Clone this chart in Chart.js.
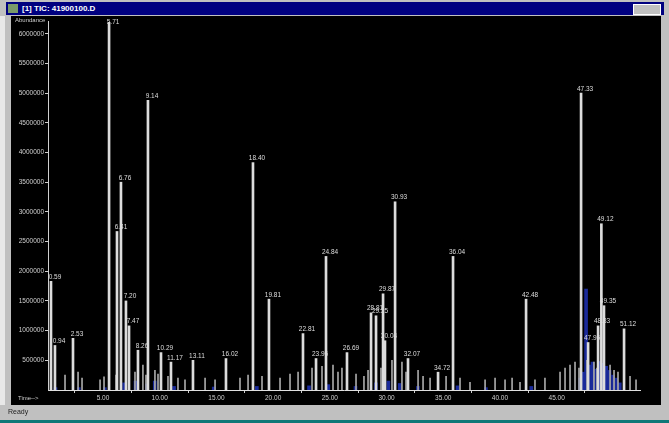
<!DOCTYPE html>
<html><head><meta charset="utf-8">
<script src="https://cdn.jsdelivr.net/npm/chart.js@4/dist/chart.umd.min.js"></script>
<style>
html,body{margin:0;padding:0;}
body{width:669px;height:423px;background:#c0c0c0;position:relative;overflow:hidden;font-family:"Liberation Sans",Arial,sans-serif;}
#title{position:absolute;left:6px;top:2px;width:658px;height:13px;background:#000080;color:#fff;font-size:8px;font-weight:bold;line-height:13px;}
#title .ic{position:absolute;left:2px;top:2px;width:10px;height:9px;background:#7a9a6a;}
#title .tx{position:absolute;left:16px;top:0;}
#btns{position:absolute;right:3px;top:2px;height:9px;width:26px;background:#c0c0c0;border:1px solid #fff;}
#panel{position:absolute;left:11px;top:16px;width:650px;height:389px;background:#000;}
#wrap{position:absolute;left:12px;top:17px;width:649px;height:387px;}
#abund{position:absolute;left:15px;top:17px;color:#ccc;font-size:6px;}
#time{position:absolute;left:18px;top:395px;color:#ccc;font-size:6px;}
#ready{position:absolute;left:8px;top:408px;color:#222;font-size:7px;}
#status{position:absolute;left:0;top:420px;width:669px;height:3px;background:#107878;}
#lb{position:absolute;left:0;top:16px;width:5px;height:389px;background:#e8e8e8;}
</style></head>
<body>
<div id="lb"></div>
<div id="title"><div class="ic"></div><div class="tx">[1] TIC: 41900100.D</div><div id="btns"></div></div>
<div id="panel"></div>
<div id="wrap"><canvas id="c" width="649" height="387"></canvas></div>
<div id="abund">Abundance</div>
<div id="time">Time--&gt;</div>
<div id="ready">Ready</div>
<div id="status"></div>
<script>
// Major peaks: retention time (min), abundance, peak label
const majorTimes = [0.59,0.94,2.53,5.71,6.41,6.76,7.20,7.47,8.26,9.14,10.29,11.17,13.11,16.02,18.40,19.81,22.81,23.96,24.84,26.69,28.81,29.25,29.87,30.04,30.93,32.07,34.72,36.04,42.48,47.33,47.95,48.83,49.12,49.35,51.12];
const majorHeights = [1830000,750000,870000,6200000,2670000,3500000,1500000,1080000,670000,4880000,630000,470000,500000,530000,3830000,1530000,950000,530000,2250000,630000,1300000,1250000,1620000,830000,3170000,530000,300000,2250000,1530000,5000000,800000,1080000,2800000,1420000,1030000];
const majorLabels = ["0.59","0.94","2.53","5.71","6.41","6.76","7.20","7.47","8.26","9.14","10.29","11.17","13.11","16.02","18.40","19.81","22.81","23.96","24.84","26.69","28.81","29.25","29.87","30.04","30.93","32.07","34.72","36.04","42.48","47.33","47.95","48.83","49.12","49.35","51.12"];
// Minor peaks near the baseline
const minorTimes = [1.65,2.80,3.15,4.74,5.09,6.15,7.03,7.82,8.52,8.79,9.58,9.85,10.73,11.61,12.23,14.00,14.88,17.08,17.79,19.02,20.61,21.49,22.20,23.43,24.31,25.28,25.72,26.07,27.31,28.01,28.37,29.51,30.48,31.36,31.72,32.78,33.22,33.84,35.25,36.48,37.36,38.69,39.57,40.45,41.07,41.77,43.09,43.97,45.30,45.74,46.18,46.62,46.97,47.68,48.29,48.56,49.71,50.06,50.41,51.47,52.00];
const minorHeights = [250000,300000,200000,170000,220000,250000,370000,300000,420000,250000,330000,270000,230000,200000,170000,200000,170000,200000,250000,230000,200000,270000,300000,370000,400000,420000,300000,370000,270000,230000,330000,370000,500000,470000,300000,330000,230000,200000,230000,200000,130000,170000,200000,170000,200000,130000,170000,200000,300000,370000,420000,470000,370000,500000,470000,370000,420000,330000,300000,230000,170000];
// Integrated (blue) areas
const blueTimes = [0.55,2.6,4.9,6.6,7.6,8.6,9.3,11.0,14.5,18.3,22.9,24.6,27.0,28.8,29.9,30.9,32.5,36.0,38.5,42.5,46.8,47.1,47.33,47.6,47.9,48.2,48.5,48.8,49.1,49.4,49.7,50.0,50.3];
const blueHeights = [40000,40000,40000,120000,150000,100000,150000,60000,50000,60000,70000,90000,60000,120000,150000,110000,60000,70000,40000,60000,200000,300000,1700000,420000,470000,350000,480000,450000,400000,330000,250000,200000,120000];
const xTicks = [5,10,15,20,25,30,35,40,45];
const yTicks = [500000,1000000,1500000,2000000,2500000,3000000,3500000,4000000,4500000,5000000,5500000,6000000];

const toXY = (ts, hs) => ts.map((t, i) => ({x: t, y: hs[i]}));

const labelPlugin = {
  id: 'peakLabels',
  afterDatasetsDraw(chart) {
    const ctx = chart.ctx, xs = chart.scales.x, ys = chart.scales.y;
    ctx.save();
    ctx.font = '6.5px "Liberation Sans", Arial, sans-serif';
    ctx.fillStyle = '#dedede';
    ctx.textAlign = 'center';
    ctx.textBaseline = 'bottom';
    majorTimes.forEach((t, i) => {
      const px = xs.getPixelForValue(t);
      const py = Math.max(ys.getPixelForValue(majorHeights[i]) - 1, 8);
      ctx.fillText(majorLabels[i], px + 2, py);
    });
    ctx.restore();
  }
};
const bgPlugin = {
  id: 'bg',
  beforeDraw(chart) {
    const ctx = chart.ctx;
    ctx.save(); ctx.fillStyle = '#000'; ctx.fillRect(0, 0, chart.width, chart.height); ctx.restore();
  }
};

new Chart(document.getElementById('c'), {
  type: 'bar',
  data: {
    datasets: [
      {data: toXY(majorTimes, majorHeights), backgroundColor: '#dcdcdc', barThickness: 2, order: 0},
      {data: toXY(minorTimes, minorHeights), backgroundColor: '#a8a8a8', barThickness: 1, order: 1},
      {data: toXY(blueTimes, blueHeights), backgroundColor: '#1a2a9a', barThickness: 3, order: 2}
    ]
  },
  options: {
    responsive: false,
    animation: false,
    events: [],
    layout: {padding: {top: 1, right: 21, left: 0, bottom: 0}},
    plugins: {legend: {display: false}, tooltip: {enabled: false}},
    scales: {
      x: {
        type: 'linear', offset: false, min: 0.15, max: 52.35,
        afterBuildTicks: s => { s.ticks = xTicks.map(v => ({value: v})); },
        afterFit: s => { s.height = 14; },
        ticks: {color: '#cfcfcf', font: {size: 6.5, family: '"Liberation Sans", Arial'}, padding: 1, maxRotation: 0,
          callback: v => v.toFixed(2)},
        grid: {drawOnChartArea: false, color: '#cfcfcf', tickLength: 3},
        border: {color: '#e0e0e0', width: 1}
      },
      y: {
        min: 0, max: 6200000,
        afterBuildTicks: s => { s.ticks = yTicks.map(v => ({value: v})); },
        afterFit: s => { s.width = 36; },
        ticks: {color: '#cfcfcf', font: {size: 6.5, family: '"Liberation Sans", Arial'}, padding: 1,
          callback: v => String(v)},
        grid: {drawOnChartArea: false, color: '#cfcfcf', tickLength: 3},
        border: {color: '#d0d0d0', width: 1}
      }
    }
  },
  plugins: [bgPlugin, labelPlugin]
});
</script>
</body></html>
